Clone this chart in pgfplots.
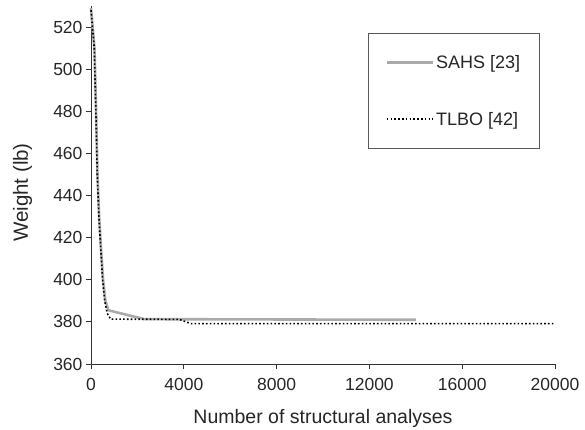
\documentclass[border=0pt]{standalone}
\usepackage{fontspec}
\setmainfont{Liberation Sans}
\usepackage{pgfplots}
\pgfplotsset{compat=1.18}
\begin{document}
\begin{tikzpicture}
\path[use as bounding box] (-91pt,-65pt) rectangle (494pt,364pt);
\begin{axis}[
  scale only axis, width=464pt, height=358pt,
  xmin=0, xmax=20000, ymin=360, ymax=530,
  axis lines=left, axis line style={-, line width=0.9pt, black!80},
  xtick={0,4000,8000,12000,16000,20000},
  ytick={360,380,...,520},
  scaled x ticks=false,
  /pgf/number format/assume math mode=true,
  ticklabel style={font=\fontsize{17.5}{19}\selectfont, text=black!85},
  xticklabel style={yshift=-6pt, /pgf/number format/1000 sep={}},
  tick style={black!80, line width=0.9pt},
  tick align=outside,
  major tick length=5pt,
  xlabel={Number of structural analyses},
  ylabel={Weight (lb)},
  xlabel style={font=\fontsize{19.5}{21}\selectfont, text=black!85, at={(axis description cs:0.5,0)}, anchor=base, yshift=-59pt},
  ylabel style={font=\fontsize{20.5}{22}\selectfont, text=black!85, at={(axis description cs:-0.1476,0.479)}, anchor=center},
  legend style={at={(rel axis cs:0.597,0.9246)}, anchor=north west, draw=black!65, line width=0.9pt,
    font=\fontsize{18}{20}\selectfont, text=black!85, row sep=38pt, inner xsep=17pt, inner ysep=20pt,
    legend cell align=left},
  legend image code/.code={\draw[#1] (0pt,0pt) -- (46pt,0pt);},
  clip=false,
]
\addplot[line width=2.6pt, color={rgb,255:red,170;green,170;blue,170}] coordinates {
(0,529) (150,510) (220,480) (280,450) (350,430) (430,415) (520,400) (620,390) (750,385.5) (2300,381.3) (14000,381)
};
\addlegendentry{SAHS [23]}
\addplot[line width=1.6pt, black, dash pattern=on 1.6pt off 2.2pt] coordinates {
(0,528) (140,510) (210,480) (270,450) (340,430) (420,415) (500,400) (590,390) (700,384) (850,381.3) (3800,381.2) (4300,379.2) (20000,379.2)
};
\addlegendentry{TLBO [42]}
\end{axis}
\end{tikzpicture}
\end{document}
